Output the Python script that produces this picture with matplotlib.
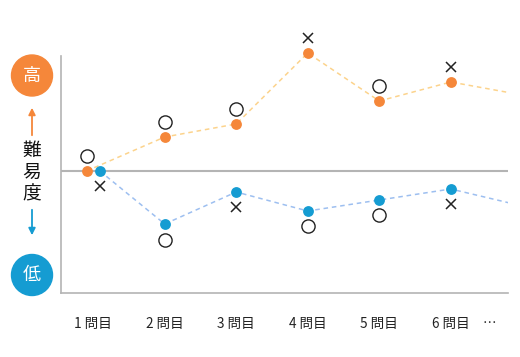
import numpy as np
import matplotlib.pyplot as plt
from matplotlib.patches import Circle

plt.rcParams['font.family'] = ['Noto Sans CJK JP', 'DejaVu Sans']

# question number (7th is off the right edge, line just runs out)
questions = [1, 2, 3, 4, 5, 6, 7]
tick_labels = ["1 問目", "2 問目", "3 問目", "4 問目", "5 問目", "6 問目", "…"]

# difficulty after each answer, two examples
high_vals = [0.0, 3.4, 4.7, 11.8, 7.0, 8.9, 7.6]
low_vals = [0.0, -5.3, -2.1, -4.0, -2.9, -1.8, -3.5]

# answer marks (o = right, x = wrong) for questions 1..6
high_marks = ["o", "o", "o", "x", "o", "x"]
low_marks = ["x", "o", "x", "o", "o", "x"]

c_orange = "#f5873a"
c_blue = "#159cd2"
c_oline = "#fcd38c"
c_bline = "#9dbff0"
c_grey = "#b4b4b4"

f = plt.figure(figsize=(5.2, 3.57), dpi=100)
ax = f.add_axes([61 / 520, 1 - 293 / 357, (508 - 61) / 520, (293 - 40) / 357])

x = np.array(questions, dtype=float)
xh = x.copy()
xl = x.copy()
xh[0] -= 0.093
xl[0] += 0.093

ax.plot(xh, high_vals, linestyle=(0, (3, 2.5)), color=c_oline, lw=1.1, zorder=1)
ax.plot(xl, low_vals, linestyle=(0, (3, 2.5)), color=c_bline, lw=1.1, zorder=1)
ax.plot(xh[:6], high_vals[:6], 'o', color=c_orange, ms=7.8, mec='none', zorder=3, clip_on=False)
ax.plot(xl[:6], low_vals[:6], 'o', color=c_blue, ms=7.8, mec='none', zorder=3, clip_on=False)

# marks above / below the points
for i in range(6):
    for xx, yy, m, off in [(xh[i], high_vals[i], high_marks[i], 1.45),
                           (xl[i], low_vals[i], low_marks[i], -1.55)]:
        if m == "o":
            ax.plot(xx, yy + off, 'o', mfc='white', mec='#222222', mew=1.0, ms=9.5,
                    zorder=4, clip_on=False)
        else:
            ax.plot(xx, yy + off, 'x', color='#222222', mew=1.1, ms=7,
                    zorder=4, clip_on=False)

ax.axhline(0, color=c_grey, lw=1.5, zorder=0)

ax.set_xlim(0.55, 6.80)
ax.set_ylim(-12.2, 13.1)

for s in ['top', 'right']:
    ax.spines[s].set_visible(False)
ax.spines['left'].set_bounds(-12.2, 11.5)
ax.spines['left'].set_color(c_grey)
ax.spines['bottom'].set_color(c_grey)
ax.spines['left'].set_linewidth(1.2)
ax.spines['bottom'].set_linewidth(1.2)

ax.set_yticks([])
ax.set_xticks([1, 2, 3, 4, 5, 6, 6.54])
ax.set_xticklabels(tick_labels, fontsize=9.8, color='#222222')
ax.tick_params(axis='x', length=0, pad=17)

# left side legend: 高 / 難易度 / 低
def fx(px):
    return px / 520

def fy(py):
    return 1 - py / 357

for cy, ch, col in [(75.5, "高", c_orange), (275, "低", c_blue)]:
    f.patches.append(Circle((32, 357 - cy), 20.5, transform=None, color=col, zorder=0))
    f.text(fx(32), fy(cy), ch, color='white', fontsize=13, ha='center', va='center')

f.text(fx(32), fy(172), "難\n易\n度", fontsize=13.5, ha='center', va='center',
       linespacing=1.05, color='#111111')

ax.annotate("", xy=(fx(32), fy(105)), xytext=(fx(32), fy(138)), xycoords='figure fraction',
            arrowprops=dict(arrowstyle='-|>', color=c_orange, lw=1.3, mutation_scale=10))
ax.annotate("", xy=(fx(32), fy(238)), xytext=(fx(32), fy(207)), xycoords='figure fraction',
            arrowprops=dict(arrowstyle='-|>', color=c_blue, lw=1.3, mutation_scale=10))

f.savefig("out.png", dpi=100)
